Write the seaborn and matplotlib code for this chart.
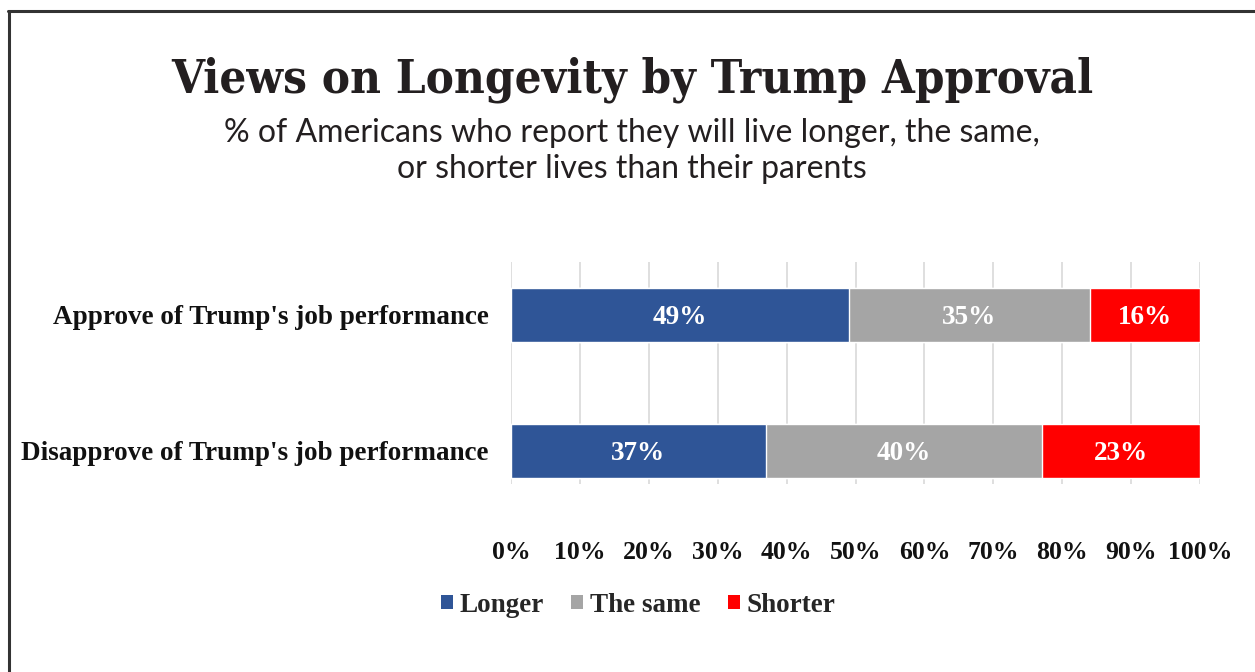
import matplotlib
matplotlib.use("Agg")
import matplotlib.pyplot as plt
from matplotlib.patches import Patch
from matplotlib.lines import Line2D
import seaborn as sns
import pandas as pd
import numpy as np

# Survey results
groups = ["Approve of Trump's job performance", "Disapprove of Trump's job performance"]
longer = [49, 37]
same = [35, 40]
shorter = [16, 23]
series_names = ["Longer", "The same", "Shorter"]
tick_labels = ["0%", "10%", "20%", "30%", "40%", "50%", "60%", "70%", "80%", "90%", "100%"]

colors = {"Longer": "#2F5597", "The same": "#A5A5A5", "Shorter": "#FF0000"}

sns.set_theme(style="white")
plt.rcParams["font.family"] = ["Liberation Serif", "DejaVu Serif"]

fig = plt.figure(figsize=(12.55, 6.72), dpi=100)
ax = fig.add_axes([511 / 1255, 1 - 484 / 672, (1200 - 511) / 1255, (484 - 262) / 672])

df = pd.DataFrame({"group": groups, "Longer": longer, "The same": same, "Shorter": shorter})
df["cum_same"] = df["Longer"] + df["The same"]
df["cum_short"] = df["cum_same"] + df["Shorter"]

# stacked bars: draw cumulative totals from widest to narrowest
for col, name in [("cum_short", "Shorter"), ("cum_same", "The same"), ("Longer", "Longer")]:
    sns.barplot(data=df, x=col, y="group", orient="h", color=colors[name],
                saturation=1, width=0.39, ax=ax, zorder=3)

# segment labels
for i, row in df.iterrows():
    start = 0
    for name in series_names:
        v = row[name]
        ax.text(start + v / 2, i + 0.02, f"{v}%", ha="center", va="center",
                color="white", fontsize=19.5, fontweight="bold", zorder=5)
        start += v

ax.set_xlim(0, 100)
ax.set_ylim(1 + 33 / 136, -53 / 136)
ax.set_xticks(np.arange(0, 101, 10))
ax.set_xticklabels(tick_labels)
ax.set_xlabel("")
ax.set_ylabel("")
for s in ax.spines.values():
    s.set_visible(False)
ax.grid(axis="x", color="#D9D9D9", linewidth=1.2, zorder=0)
ax.set_axisbelow(True)
ax.tick_params(axis="x", length=0, pad=41, labelsize=18.5, labelcolor="#111111")
ax.tick_params(axis="y", length=0, pad=16, labelsize=19.5, labelcolor="#111111")
for lab in ax.get_xticklabels() + ax.get_yticklabels():
    lab.set_fontweight("bold")

# legend
handles = [Patch(facecolor=colors[n], edgecolor="none") for n in series_names]
fig.legend(handles, series_names, loc="center", bbox_to_anchor=(638 / 1255, 1 - 605 / 672),
           ncol=3, frameon=False, handlelength=0.45, handleheight=0.45, handletextpad=0.25,
           columnspacing=1.0, prop={"family": "Liberation Serif", "weight": "bold", "size": 19.5})

# title and subtitle
fig.text(632 / 1255, 1 - 80 / 672, "Views on Longevity by Trump Approval", ha="center", va="center",
         family="DejaVu Serif", fontweight="bold", fontstretch="condensed", fontsize=34,
         color="#231F20")
fig.text(632 / 1255, 1 - 133 / 672, "% of Americans who report they will live longer, the same,",
         ha="center", va="center", family="Lato", fontweight="normal", fontsize=23, color="#231F20")
fig.text(632 / 1255, 1 - 169 / 672, "or shorter lives than their parents",
         ha="center", va="center", family="Lato", fontweight="normal", fontsize=23, color="#231F20")

# frame around the graphic
fig.add_artist(Line2D([9 / 1255, 9 / 1255], [0, 1 - 11 / 672], transform=fig.transFigure,
                      color="#333333", linewidth=2.2))
fig.add_artist(Line2D([8 / 1255, 1], [1 - 11 / 672, 1 - 11 / 672], transform=fig.transFigure,
                      color="#333333", linewidth=2.2))

fig.savefig("out.png", dpi=100, facecolor="white")
